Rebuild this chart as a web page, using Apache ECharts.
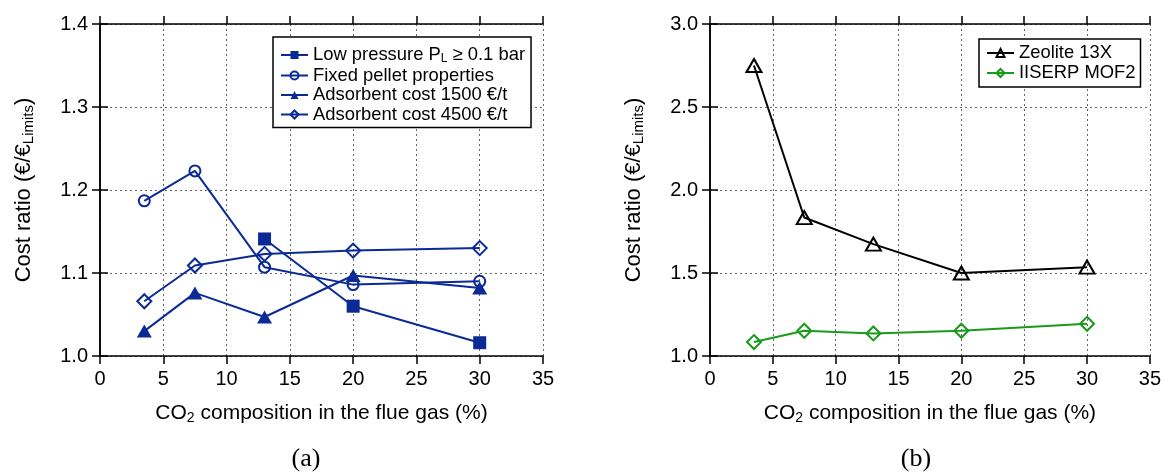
<!DOCTYPE html>
<html>
<head>
<meta charset="utf-8">
<script src="https://cdn.jsdelivr.net/npm/echarts@6/dist/echarts.min.js"></script>
<style>
  html, body { margin: 0; padding: 0; background: #fff; }
  #chart { width: 1164px; height: 472px; }
</style>
</head>
<body>
<div id="chart"></div>
<script>
// CO2 content of the flue gas (%)
const co2 = [3.5, 7.5, 13, 20, 30];
const lowPressureCo2 = [13, 20, 30];

// Panel (a): cost ratio for the sensitivity cases
const lowPressure = [1.141, 1.060, 1.016];
const fixedPellet = [1.187, 1.223, 1.107, 1.086, 1.090];
const adsorbent1500 = [1.030, 1.076, 1.047, 1.097, 1.082];
const adsorbent4500 = [1.066, 1.109, 1.123, 1.127, 1.130];

// Panel (b): cost ratio for the two adsorbents
const zeolite13X = [2.75, 1.834, 1.674, 1.500, 1.535];
const iiserpMof2 = [1.084, 1.152, 1.136, 1.152, 1.194];

// Axis ranges
const xRange = { min: 0, max: 35, interval: 5 };
const yRangeA = { min: 1.0, max: 1.4, interval: 0.1 };
const yRangeB = { min: 1.0, max: 3.0, interval: 0.5 };

const seriesNamesA = ['Low pressure', 'Fixed pellet properties', 'Adsorbent cost 1500 €/t', 'Adsorbent cost 4500 €/t'];
const seriesNamesB = ['Zeolite 13X', 'IISERP MOF2'];

const BLUE = '#0b2a95';
const GREEN = '#1a9a1a';
const SANS = '"Liberation Sans", Arial, Helvetica, sans-serif';
const SERIF = '"Liberation Serif", "Times New Roman", serif';
const HOLLOW = 'rgba(0,0,0,0)';

const pair = (xs, ys) => xs.map((x, i) => [x, ys[i]]);

const gridA = { left: 100, top: 24, width: 443, height: 332 };
const gridB = { left: 710, top: 24, width: 444, height: 332 };

const axisLineStyle = { color: '#000', width: 1.5 };
const tickStyle = { show: true, inside: false, length: 8, lineStyle: { color: '#000', width: 1.5 } };
const gridLine = { show: true, lineStyle: { color: '#666', width: 1, type: [2, 3] } };

const xTitleRich = {
  n: { fontSize: 21, fontFamily: SANS, color: '#000', lineHeight: 25 },
  s: { fontSize: 14, fontFamily: SANS, color: '#000', padding: [10, 0, 0, 0], lineHeight: 25 }
};
const yTitleRich = {
  n: { fontSize: 22, fontFamily: SANS, color: '#000', lineHeight: 26 },
  s: { fontSize: 15, fontFamily: SANS, color: '#000', padding: [10, 0, 0, 0], lineHeight: 26 }
};

function xAxes(gridIndex) {
  return [
    {
      gridIndex, type: 'value', position: 'bottom', ...xRange,
      axisLine: { show: true, lineStyle: axisLineStyle },
      axisTick: tickStyle,
      axisLabel: { fontSize: 20, fontFamily: SANS, color: '#000', margin: 13 },
      splitLine: gridLine,
      name: '{n|CO}{s|2}{n| composition in the flue gas (%)}',
      nameLocation: 'middle', nameGap: 45,
      nameTextStyle: { rich: xTitleRich }
    },
    {
      gridIndex, type: 'value', position: 'top', ...xRange,
      axisLine: { show: true, lineStyle: axisLineStyle },
      axisTick: tickStyle,
      axisLabel: { show: false },
      splitLine: { show: false }
    }
  ];
}

function yAxes(gridIndex, range) {
  return [
    {
      gridIndex, type: 'value', position: 'left', ...range,
      axisLine: { show: true, lineStyle: axisLineStyle },
      axisTick: tickStyle,
      axisLabel: { fontSize: 20, fontFamily: SANS, color: '#000', margin: 12, formatter: v => v.toFixed(1) },
      splitLine: gridLine,
      name: '{n|Cost ratio (€/€}{s|Limits}{n|)}',
      nameLocation: 'middle', nameGap: 63, nameRotate: 90,
      nameTextStyle: { rich: yTitleRich }
    },
    {
      gridIndex, type: 'value', position: 'right', ...range,
      axisLine: { show: true, lineStyle: axisLineStyle },
      axisTick: tickStyle,
      axisLabel: { show: false },
      splitLine: { show: false }
    }
  ];
}

function lineSeries(name, data, axisIndex, color, symbol, size, hollow) {
  return {
    name, type: 'line', data,
    xAxisIndex: axisIndex, yAxisIndex: axisIndex,
    symbol, symbolSize: size, showSymbol: true,
    lineStyle: { color, width: 2 },
    itemStyle: hollow
      ? { color: HOLLOW, borderColor: color, borderWidth: 2 }
      : { color, borderColor: color, borderWidth: 0 },
    emphasis: { disabled: true },
    animation: false
  };
}

const legendText = { fontSize: 18.4, fontFamily: SANS, color: '#000', lineHeight: 18 };

const option = {
  backgroundColor: '#fff',
  animation: false,
  grid: [gridA, gridB],
  xAxis: [...xAxes(0), ...xAxes(1)],
  yAxis: [...yAxes(0, yRangeA), ...yAxes(1, yRangeB)],
  legend: [
    {
      orient: 'vertical', left: 273, top: 37,
      padding: [8, 6, 4, 7], itemGap: 1.5, itemWidth: 27, itemHeight: 10,
      borderColor: '#000', borderWidth: 1.5, backgroundColor: '#fff',
      selectedMode: false,
      textStyle: {
        ...legendText,
        rich: {
          n: { fontSize: 18.4, fontFamily: SANS, color: '#000', lineHeight: 18 },
          s: { fontSize: 12, fontFamily: SANS, color: '#000', lineHeight: 18, padding: [8, 0, 0, 0] }
        }
      },
      formatter: name => name === seriesNamesA[0] ? '{n|Low pressure P}{s|L}{n| ≥ 0.1 bar}' : name,
      data: seriesNamesA
    },
    {
      orient: 'vertical', left: 979, top: 39,
      padding: [5, 5, 5, 7], itemGap: 2, itemWidth: 27, itemHeight: 10,
      borderColor: '#000', borderWidth: 1.5, backgroundColor: '#fff',
      selectedMode: false,
      textStyle: legendText,
      data: seriesNamesB
    }
  ],
  series: [
    lineSeries(seriesNamesA[0], pair(lowPressureCo2, lowPressure), 0, BLUE, 'rect', 13, false),
    lineSeries(seriesNamesA[1], pair(co2, fixedPellet), 0, BLUE, 'circle', 11, true),
    lineSeries(seriesNamesA[2], pair(co2, adsorbent1500), 0, BLUE, 'triangle', [15, 13], false),
    lineSeries(seriesNamesA[3], pair(co2, adsorbent4500), 0, BLUE, 'diamond', [14, 14], true),
    lineSeries(seriesNamesB[0], pair(co2, zeolite13X), 2, '#000', 'triangle', [15, 13], true),
    lineSeries(seriesNamesB[1], pair(co2, iiserpMof2), 2, GREEN, 'diamond', [14, 14], true)
  ],
  graphic: [
    { type: 'text', x: 306, y: 459, style: { text: '(a)', font: '26px ' + SERIF, fill: '#000', align: 'center', verticalAlign: 'middle', textAlign: 'center', textVerticalAlign: 'middle' } },
    { type: 'text', x: 916, y: 459, style: { text: '(b)', font: '26px ' + SERIF, fill: '#000', align: 'center', verticalAlign: 'middle', textAlign: 'center', textVerticalAlign: 'middle' } }
  ]
};

const chart = echarts.init(document.getElementById('chart'), null, { renderer: 'canvas' });
chart.setOption(option);
</script>
</body>
</html>
